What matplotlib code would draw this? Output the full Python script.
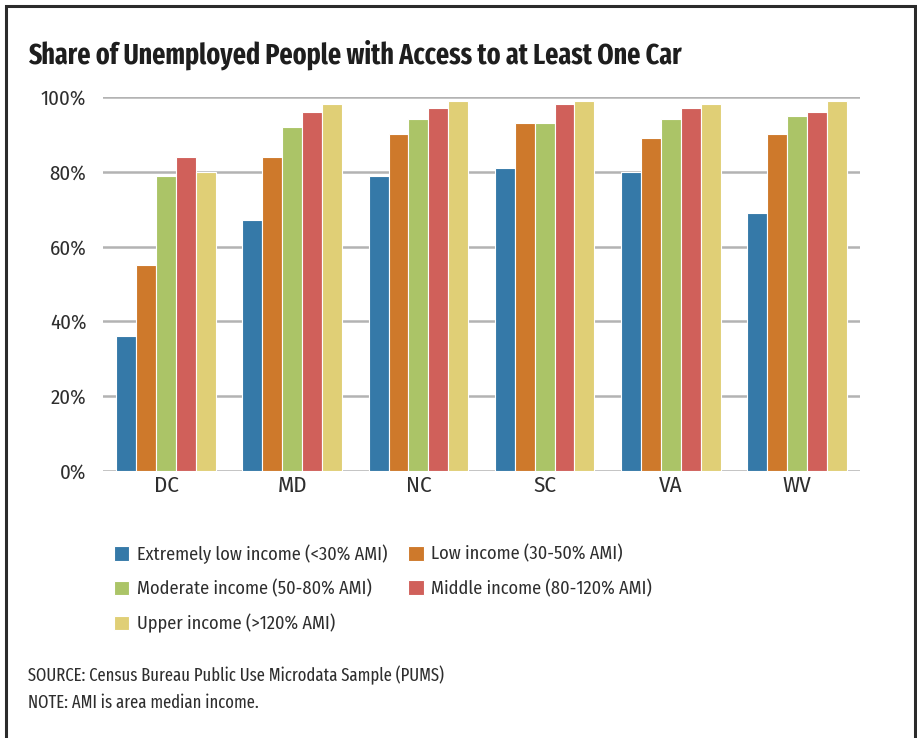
import matplotlib.pyplot as plt
import matplotlib.patches as mpatches
from matplotlib import font_manager
import numpy as np

# states and income groups
states = ['DC', 'MD', 'NC', 'SC', 'VA', 'WV']
groups = ['Extremely low income (<30% AMI)', 'Low income (30-50% AMI)',
          'Moderate income (50-80% AMI)', 'Middle income (80-120% AMI)',
          'Upper income (>120% AMI)']
extremely_low = [36, 67, 79, 81, 80, 69]
low = [55, 84, 90, 93, 89, 90]
moderate = [79, 92, 94, 93, 94, 95]
middle = [84, 96, 97, 98, 97, 96]
upper = [80, 98, 99, 99, 98, 99]
yticks = [0, 20, 40, 60, 80, 100]

colors = ['#3579a8', '#ce792b', '#abc467', '#d0605a', '#e0cf76']


def pick(names):
    have = {f.name for f in font_manager.fontManager.ttflist}
    for n in names:
        if n in have:
            return [n, 'DejaVu Sans']
    return ['DejaVu Sans']


body = pick(['Fira Sans Condensed', 'Roboto Condensed', 'Source Sans 3', 'Open Sans'])
cond = pick(['Fira Sans Extra Condensed', 'Roboto Condensed', 'PT Sans Narrow', 'Open Sans'])
ink = '#2e2e2e'

W, H = 917, 738
fig = plt.figure(figsize=(W / 100, H / 100), dpi=100)

# outer frame (open at the bottom)
frame = mpatches.Rectangle((6 / W, -0.05), 909 / W, 1.05 - 6 / H,
                           transform=fig.transFigure, fill=False,
                           edgecolor='#2b2b2b', linewidth=2.2)
fig.patches.append(frame)

ax = fig.add_axes([103 / W, 1 - 471 / H, 757 / W, 374 / H])

x = np.arange(len(states))
bw = 0.158
series = [extremely_low, low, moderate, middle, upper]
bars = []
for i, vals in enumerate(series):
    b = ax.bar(x + (i - 2) * bw, vals, width=bw, color=colors[i],
               edgecolor='white', linewidth=0.8, zorder=3, label=groups[i])
    bars.append(b)

ax.set_xlim(-0.5, len(states) - 0.5)
ax.set_ylim(0, 100)
ax.set_yticks(yticks)
ax.set_yticklabels([f'{t}%' for t in yticks], family=body, fontsize=15,
                   color=ink)
ax.set_xticks(x)
ax.set_xticklabels(states, family=body, fontsize=16.5, color=ink)
ax.tick_params(length=0)
ax.tick_params(axis='y', pad=12)
ax.tick_params(axis='x', pad=3)
for s in ax.spines.values():
    s.set_visible(False)
ax.grid(axis='y', color='#b3b3b3', linewidth=1.8, zorder=0)
ax.set_axisbelow(True)

fig.text(28 / W, 1 - 55 / H, 'Share of Unemployed People with Access to at Least One Car',
         family=cond, fontsize=20.3, fontweight='bold', color='#1e1e1e',
         va='center', ha='left')

# legend filled row by row
order = [0, 2, 4, 1, 3]
fig.legend([bars[i] for i in order], [groups[i] for i in order],
           loc='upper left', bbox_to_anchor=(105 / W, 1 - 535 / H), ncol=2,
           frameon=False, prop={'family': body, 'size': 13.2},
           handlelength=0.82, handleheight=0.82, handletextpad=0.42,
           labelspacing=0.86, columnspacing=1.15, borderpad=0, labelcolor=ink)

fig.text(28 / W, 1 - 675 / H, 'SOURCE: Census Bureau Public Use Microdata Sample (PUMS)',
         family=cond, fontsize=13, color=ink, va='center')
fig.text(28 / W, 1 - 703 / H, 'NOTE: AMI is area median income.',
         family=cond, fontsize=13, color=ink, va='center')

fig.savefig('out.png', dpi=100)
